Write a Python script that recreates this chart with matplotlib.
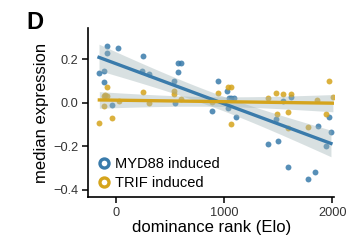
import numpy as np
import matplotlib
matplotlib.use("Agg")
import matplotlib.pyplot as plt
from matplotlib.lines import Line2D

plt.rcParams['font.family'] = ['Liberation Sans', 'DejaVu Sans']

# MYD88 induced (blue)
myd_x = [-80, 21, -86, -157, -111, -111, -40, 253, 238, 308, 540, 577, 599, 577, 546,
         941, 886, 1025, 1046, 1034, 1108, 1065, 1090, 1404, 1494, 1590, 1620, 1540,
         1479, 1775, 1843, 1867, 1944, 1966, 1988]
myd_y = [0.261, 0.250, 0.227, 0.135, 0.147, 0.094, -0.011, 0.215, 0.146, 0.132, 0.101,
         0.181, 0.181, 0.143, 0.000, 0.101, -0.038, 0.055, 0.020, -0.026, -0.067, 0.020,
         0.020, -0.190, -0.176, -0.297, 0.028, 0.010, -0.076, -0.352, -0.317, -0.107,
         -0.198, -0.067, -0.133]

# TRIF induced (gold)
trif_x = [-154, -111, -86, -80, -111, -40, 31, 253, 308, 534, 534, 599, 886, 941, 1034,
          1065, 1062, 1404, 1479, 1540, 1486, 1590, 1590, 1620, 1775, 1858, 1944, 1966,
          2006, -100]
trif_y = [-0.092, 0.030, 0.030, 0.071, -0.014, -0.069, 0.008, 0.051, 0.000, 0.054, 0.040,
          0.015, 0.005, 0.046, 0.072, 0.072, -0.100, 0.023, 0.046, 0.040, -0.050, -0.045,
          -0.118, 0.038, -0.114, 0.012, -0.050, 0.100, 0.025, 0.035]

blue = '#3a7bab'
gold = '#d5a41c'


def fit_band(x, y, xs):
    x = np.asarray(x, float)
    y = np.asarray(y, float)
    b, a = np.polyfit(x, y, 1)
    n = len(x)
    res = y - (a + b * x)
    s = np.sqrt(np.sum(res ** 2) / (n - 2))
    se = s * np.sqrt(1 / n + (xs - x.mean()) ** 2 / np.sum((x - x.mean()) ** 2))
    fit = a + b * xs
    return fit, fit - 2.03 * se, fit + 2.03 * se


fig = plt.figure(figsize=(3.47, 2.42), dpi=100)
ax = fig.add_axes([0.2545, 0.1847, 0.708, 0.6993])

for x, y, c in [(myd_x, myd_y, blue), (trif_x, trif_y, gold)]:
    ax.scatter(x, y, s=18, color=c, alpha=0.85, linewidths=0, zorder=2)

for x, y, c in [(myd_x, myd_y, blue), (trif_x, trif_y, gold)]:
    xs = np.linspace(min(x), max(x), 100)
    fit, lo, hi = fit_band(x, y, xs)
    ax.fill_between(xs, lo, hi, color='#9fb3b6', alpha=0.4, linewidth=0, zorder=3)
    ax.plot(xs, fit, color=c, lw=2.4, zorder=4)

ax.set_xlim(-256, 2016)
ax.set_ylim(-0.435, 0.343)
ax.set_xticks([0, 1000, 2000])
ax.set_yticks([-0.4, -0.2, 0.0, 0.2])
ax.set_yticklabels(['\u22120.4', '\u22120.2', '0.0', '0.2'])
ax.tick_params(labelsize=9.2, length=4, width=1.1, colors='black', labelcolor='#333333',
               pad=3)
for side in ['top', 'right']:
    ax.spines[side].set_visible(False)
for side in ['left', 'bottom']:
    ax.spines[side].set_linewidth(1.2)

ax.set_xlabel('dominance rank (Elo)', fontsize=12, labelpad=1)
ax.set_ylabel('median expression', fontsize=12, labelpad=3)

handles = [Line2D([], [], marker='o', ls='none', color=blue, markerfacecolor='white',
                  markeredgewidth=2.4, markersize=6.5, label='MYD88 induced'),
           Line2D([], [], marker='o', ls='none', color=gold, markerfacecolor='white',
                  markeredgewidth=2.4, markersize=6.5, label='TRIF induced')]
ax.legend(handles=handles, loc='lower left', frameon=False, fontsize=10.5,
          handletextpad=0.1, borderpad=0.2, labelspacing=0.35, borderaxespad=0.3,
          handlelength=1.2)

fig.text(0.075, 0.88, 'D', fontsize=17, fontweight='bold')

fig.savefig('out.png', dpi=100)
